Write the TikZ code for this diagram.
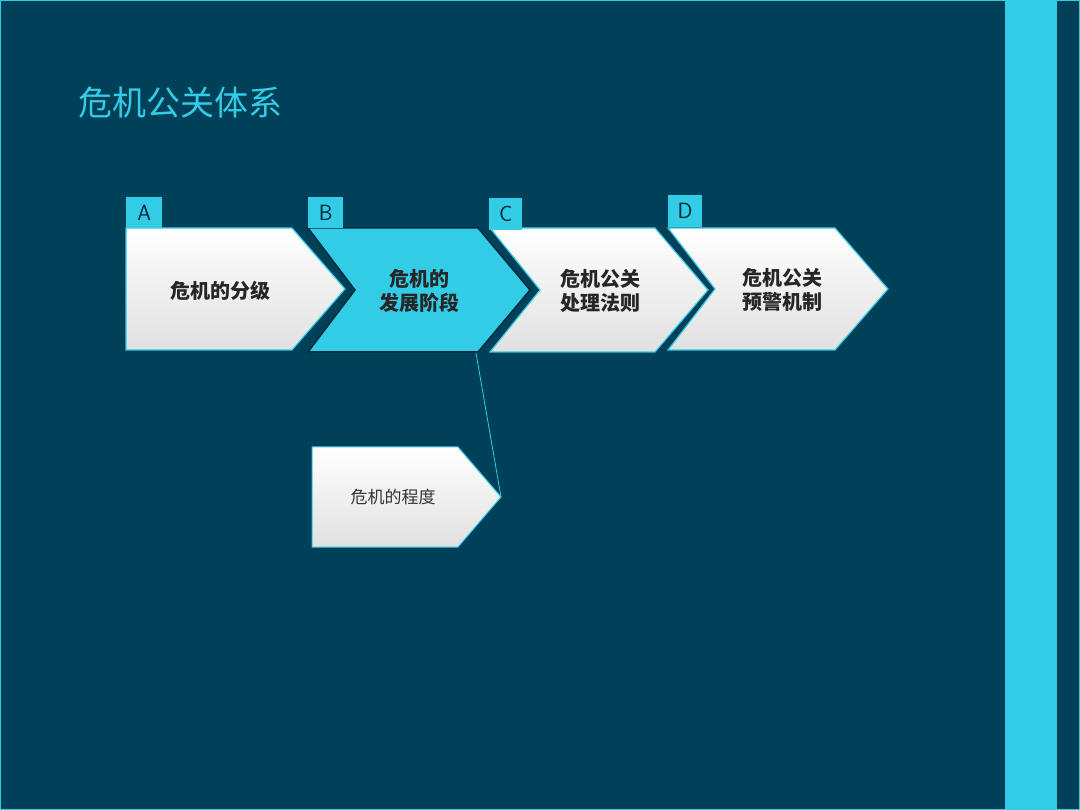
\documentclass[tikz,border=0pt]{standalone}
\usepackage{fontspec}
\newfontfamily\cjk{Noto Sans CJK SC}
\definecolor{bg}{RGB}{0,64,88}
\definecolor{cy}{RGB}{50,204,230}
\begin{document}
\begin{tikzpicture}[x=1pt,y=-1pt,
  chev/.style={draw=cy,line width=1.2pt,top color=white,bottom color=black!12},
  chevb/.style={draw=bg!70!black,line width=1.5pt,fill=cy},
  tag/.style={fill=cy,inner sep=0pt,anchor=north west,text=bg!60!black,font=\sffamily\fontsize{22}{22}\selectfont,align=center},
  lbl/.style={font=\cjk\bfseries\fontsize{20}{24}\selectfont,align=center,text=black!85}]
\fill[bg] (0,0) rectangle (1080,810);
\draw[cy,line width=1pt] (0.5,0.5) rectangle (1079.5,809.5);
\fill[cy] (1005,0) rectangle (1057,810);
\node[anchor=west,text=cy,font=\cjk\fontsize{34}{36}\selectfont] (title) at (75,103) {危机公关体系};
% chevrons
\filldraw[chev] (126,228) -- (292,228) -- (345,289) -- (292,350) -- (126,350) -- cycle;
\filldraw[chevb] (308,228) -- (478,228) -- (530,290) -- (478,352) -- (308,352) -- (355,290) -- cycle;
\filldraw[chev] (490,228) -- (655,228) -- (708,290) -- (655,352) -- (490,352) -- (540,290) -- cycle;
\filldraw[chev] (668,228) -- (835,228) -- (888,289) -- (835,350) -- (668,350) -- (715,289) -- cycle;
\node[lbl] (a) at (220,291) {危机的分级};
\node[lbl] (b) at (419,291) {危机的\\发展阶段};
\node[lbl] (c) at (600,291) {危机公关\\处理法则};
\node[lbl] (d) at (782,290) {危机公关\\预警机制};
\node[tag,minimum width=36pt,minimum height=31pt] (ta) at (126,197) {A};
\node[tag,minimum width=35pt,minimum height=31pt] (tb) at (308,197) {B};
\node[tag,minimum width=33pt,minimum height=32pt] (tc) at (489,198) {C};
\node[tag,minimum width=34pt,minimum height=32pt] (td) at (668,195) {D};
% sub
\filldraw[chev,line width=1pt] (312,447) -- (458,447) -- (501,497) -- (458,547) -- (312,547) -- cycle;
\node[font=\cjk\fontsize{17}{20}\selectfont,text=black!80] (s) at (393,497) {危机的程度};
\coordinate (p1) at (476,353);
\coordinate (p2) at (501,497);
\draw[cy,line width=0.8pt] (p1) -- (p2);
\end{tikzpicture}
\end{document}
